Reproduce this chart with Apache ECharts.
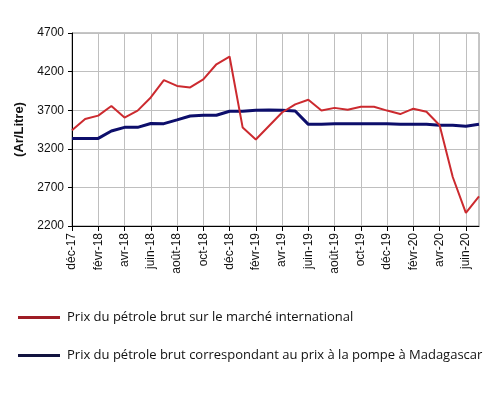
<!DOCTYPE html>
<html>
<head>
<meta charset="utf-8">
<script src="https://cdn.jsdelivr.net/npm/echarts@6/dist/echarts.min.js"></script>
<style>
  html, body { margin: 0; padding: 0; background: #fff; }
  #main { width: 500px; height: 399px; }
</style>
</head>
<body>
<div id="main"></div>
<script>
// mois, de déc-17 à juil-20
var mois = [
  'déc-17', 'janv-18', 'févr-18', 'mars-18', 'avr-18', 'mai-18', 'juin-18', 'juil-18',
  'août-18', 'sept-18', 'oct-18', 'nov-18', 'déc-18', 'janv-19', 'févr-19', 'mars-19',
  'avr-19', 'mai-19', 'juin-19', 'juil-19', 'août-19', 'sept-19', 'oct-19', 'nov-19',
  'déc-19', 'janv-20', 'févr-20', 'mars-20', 'avr-20', 'mai-20', 'juin-20', 'juil-20'
];

// Prix du pétrole brut sur le marché international (Ar/Litre)
var prixInternational = [
  3440, 3585, 3630, 3755, 3605, 3695, 3865, 4090,
  4015, 3995, 4100, 4295, 4395, 3475, 3320, 3495,
  3670, 3775, 3835, 3695, 3730, 3705, 3745, 3745,
  3695, 3650, 3720, 3680, 3505, 2835, 2370, 2585
];

// Prix du pétrole brut correspondant au prix à la pompe à Madagascar (Ar/Litre)
var prixPompe = [
  3335, 3335, 3335, 3430, 3478, 3478, 3528, 3526,
  3574, 3625, 3634, 3634, 3686, 3686, 3698, 3703,
  3700, 3690, 3517, 3517, 3525, 3525, 3525, 3525,
  3525, 3517, 3517, 3517, 3504, 3504, 3492, 3517
];

var yTicks = [2200, 2700, 3200, 3700, 4200, 4700];

var nomInter = 'Prix du pétrole brut sur le marché international';
var nomPompe = 'Prix du pétrole brut correspondant au prix à la pompe à Madagascar';

var arial = 'Liberation Sans, Arial, sans-serif';

var chart = echarts.init(document.getElementById('main'));

chart.setOption({
  animation: false,
  backgroundColor: '#fff',
  textStyle: { fontFamily: arial },
  grid: {
    left: 72, right: 21, top: 33, bottom: 173,
    show: true, borderColor: '#8c8c8c', borderWidth: 1
  },
  legend: {
    orient: 'vertical',
    left: 13,
    top: 306,
    itemWidth: 42,
    itemHeight: 3,
    itemGap: 25,
    icon: 'rect',
    textStyle: { fontFamily: 'Open Sans', fontSize: 13, color: '#111', padding: [0, 0, 0, 2] },
    data: [
      { name: nomInter, itemStyle: { color: '#9e1c25' } },
      { name: nomPompe, itemStyle: { color: '#12133f' } }
    ]
  },
  xAxis: {
    type: 'category',
    data: mois,
    boundaryGap: false,
    axisLine: { lineStyle: { color: '#000', width: 1 } },
    axisTick: { show: true, interval: 1, length: 5, lineStyle: { color: '#000' } },
    axisLabel: {
      interval: 1, rotate: 90, fontSize: 12, color: '#111', margin: 7,
      fontFamily: arial
    },
    splitLine: { show: true, interval: 1, lineStyle: { color: '#bfbfbf', width: 1 } }
  },
  yAxis: {
    type: 'value',
    min: yTicks[0],
    max: yTicks[yTicks.length - 1],
    interval: 500,
    name: '(Ar/Litre)',
    nameLocation: 'middle',
    nameRotate: 90,
    nameGap: 44,
    nameTextStyle: { fontWeight: 'bold', fontSize: 13, color: '#111', fontFamily: arial },
    axisLine: { show: true, lineStyle: { color: '#000', width: 1 } },
    axisTick: { show: true, length: 4, lineStyle: { color: '#000' } },
    axisLabel: {
      fontSize: 12, color: '#111', margin: 8, fontFamily: arial,
      formatter: function (v) { return String(v); }
    },
    splitLine: { show: true, lineStyle: { color: '#bfbfbf', width: 1 } }
  },
  series: [
    {
      name: nomInter,
      type: 'line',
      data: prixInternational,
      showSymbol: false,
      lineStyle: { color: '#cc2a2f', width: 2 },
      itemStyle: { color: '#cc2a2f' },
      z: 3
    },
    {
      name: nomPompe,
      type: 'line',
      data: prixPompe,
      showSymbol: false,
      lineStyle: { color: '#0d0e6b', width: 3 },
      itemStyle: { color: '#0d0e6b' },
      z: 2
    }
  ]
});
</script>
</body>
</html>
